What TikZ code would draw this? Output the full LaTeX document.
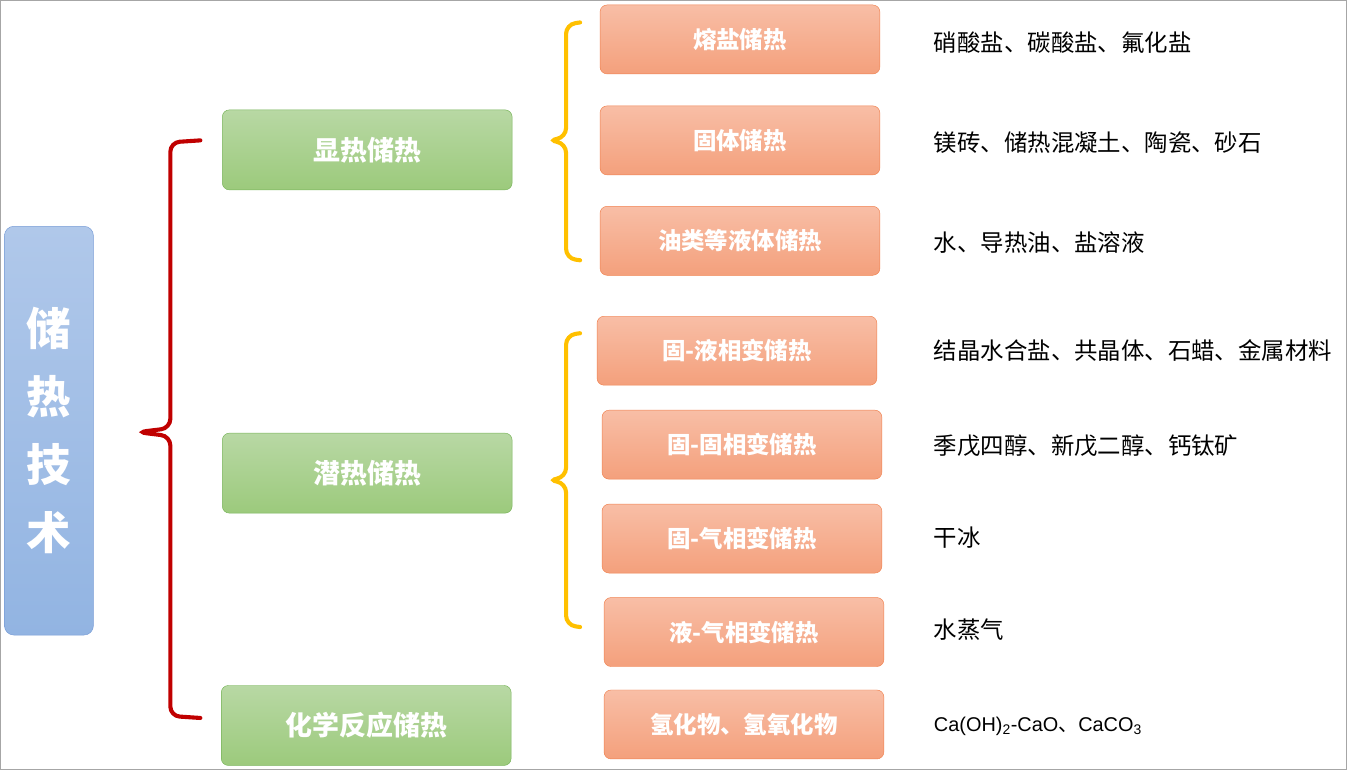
\documentclass[tikz,border=0pt]{standalone}
\usepackage{fontspec}
\setmainfont{Liberation Sans}
\newfontfamily\cjk{Noto Sans CJK SC}
\usetikzlibrary{positioning, calc}

\definecolor{grntop}{RGB}{184,216,164}
\definecolor{grnbot}{RGB}{156,202,124}
\definecolor{grnline}{RGB}{120,180,90}
\definecolor{orgtop}{RGB}{248,190,166}
\definecolor{orgbot}{RGB}{244,160,124}
\definecolor{orgline}{RGB}{240,130,80}
\definecolor{blutop}{RGB}{176,200,234}
\definecolor{blubot}{RGB}{146,180,226}
\definecolor{bluline}{RGB}{120,156,214}
\definecolor{bracered}{RGB}{192,0,0}
\definecolor{braceyel}{RGB}{255,192,0}

\tikzset{
  grnbox/.style={draw=grnline, top color=grntop, bottom color=grnbot,
    rounded corners=6pt, minimum width=8.7cm, minimum height=2.4cm, text=white, font=\cjk\bfseries\fontsize{23}{26}\selectfont},
  orgbox/.style={draw=orgline, top color=orgtop, bottom color=orgbot,
    rounded corners=6pt, minimum width=8.4cm, minimum height=2.07cm, text=white, font=\cjk\bfseries\fontsize{20}{23}\selectfont},
  matlabel/.style={anchor=west, font=\cjk\fontsize{20}{23}\selectfont},
  bigbrace/.style={line width=3.5pt, rounded corners=8pt, line cap=round},
}

\begin{document}
\begin{tikzpicture}[x=0.03cm, y=-0.03cm]
\draw[gray!70, line width=0.8pt] (0,0) rectangle (1347,770);

% left main box
\node[draw=bluline, top color=blutop, bottom color=blubot, rounded corners=8pt,
  minimum width=2.67cm, minimum height=12.27cm, text=white, font=\cjk\bfseries\fontsize{38}{58}\selectfont,
  align=center] (main) at (48.5,430.5) {储\\热\\技\\术};

% second level
\node[grnbox] (xian) at (367,149.5) {显热储热};
\node[grnbox] (qian) at (367,473) {潜热储热};
\node[grnbox] (hua) at (366,725.5) {化学反应储热};

% red brace
\draw[bigbrace, bracered] (200,140) -- (170,142) -- (170,428) -- (137,432) -- (170,436) -- (170,716) -- (200,718);

% yellow braces
\draw[bigbrace, braceyel] (580,22) -- (566,24) -- (566,137) -- (548,140) -- (566,143) -- (566,258) -- (580,260);
\draw[bigbrace, braceyel] (580,333) -- (566,335) -- (566,477) -- (548,480) -- (566,483) -- (566,625) -- (580,627);

% third level
\node[orgbox] (rongyan) at (740,39) {熔盐储热};
\node[orgbox] (guti) at (740,140) {固体储热};
\node[orgbox] (youlei) at (740,240.5) {油类等液体储热};
\node[orgbox] (guye) at (737,350.5) {固-液相变储热};
\node[orgbox] (gugu) at (742,444.5) {固-固相变储热};
\node[orgbox] (guqi) at (742,538.5) {固-气相变储热};
\node[orgbox] (yeqi) at (744,632) {液-气相变储热};
\node[orgbox] (qing) at (744,724.5) {氢化物、氢氧化物};

% materials
\node[matlabel] (m1) at (930,42) {硝酸盐、碳酸盐、氟化盐};
\node[matlabel] (m2) at (930,142) {镁砖、储热混凝土、陶瓷、砂石};
\node[matlabel] (m3) at (930,242) {水、导热油、盐溶液};
\node[matlabel] (m4) at (930,350) {结晶水合盐、共晶体、石蜡、金属材料};
\node[matlabel] (m5) at (930,446) {季戊四醇、新戊二醇、钙钛矿};
\node[matlabel] (m6) at (930,538) {干冰};
\node[matlabel] (m7) at (930,630) {水蒸气};
\node[matlabel, font=\fontsize{17}{20}\selectfont] (m8) at (930,726) {Ca(OH)\textsubscript{2}-CaO{\cjk 、}CaCO\textsubscript{3}};
\end{tikzpicture}
\end{document}
